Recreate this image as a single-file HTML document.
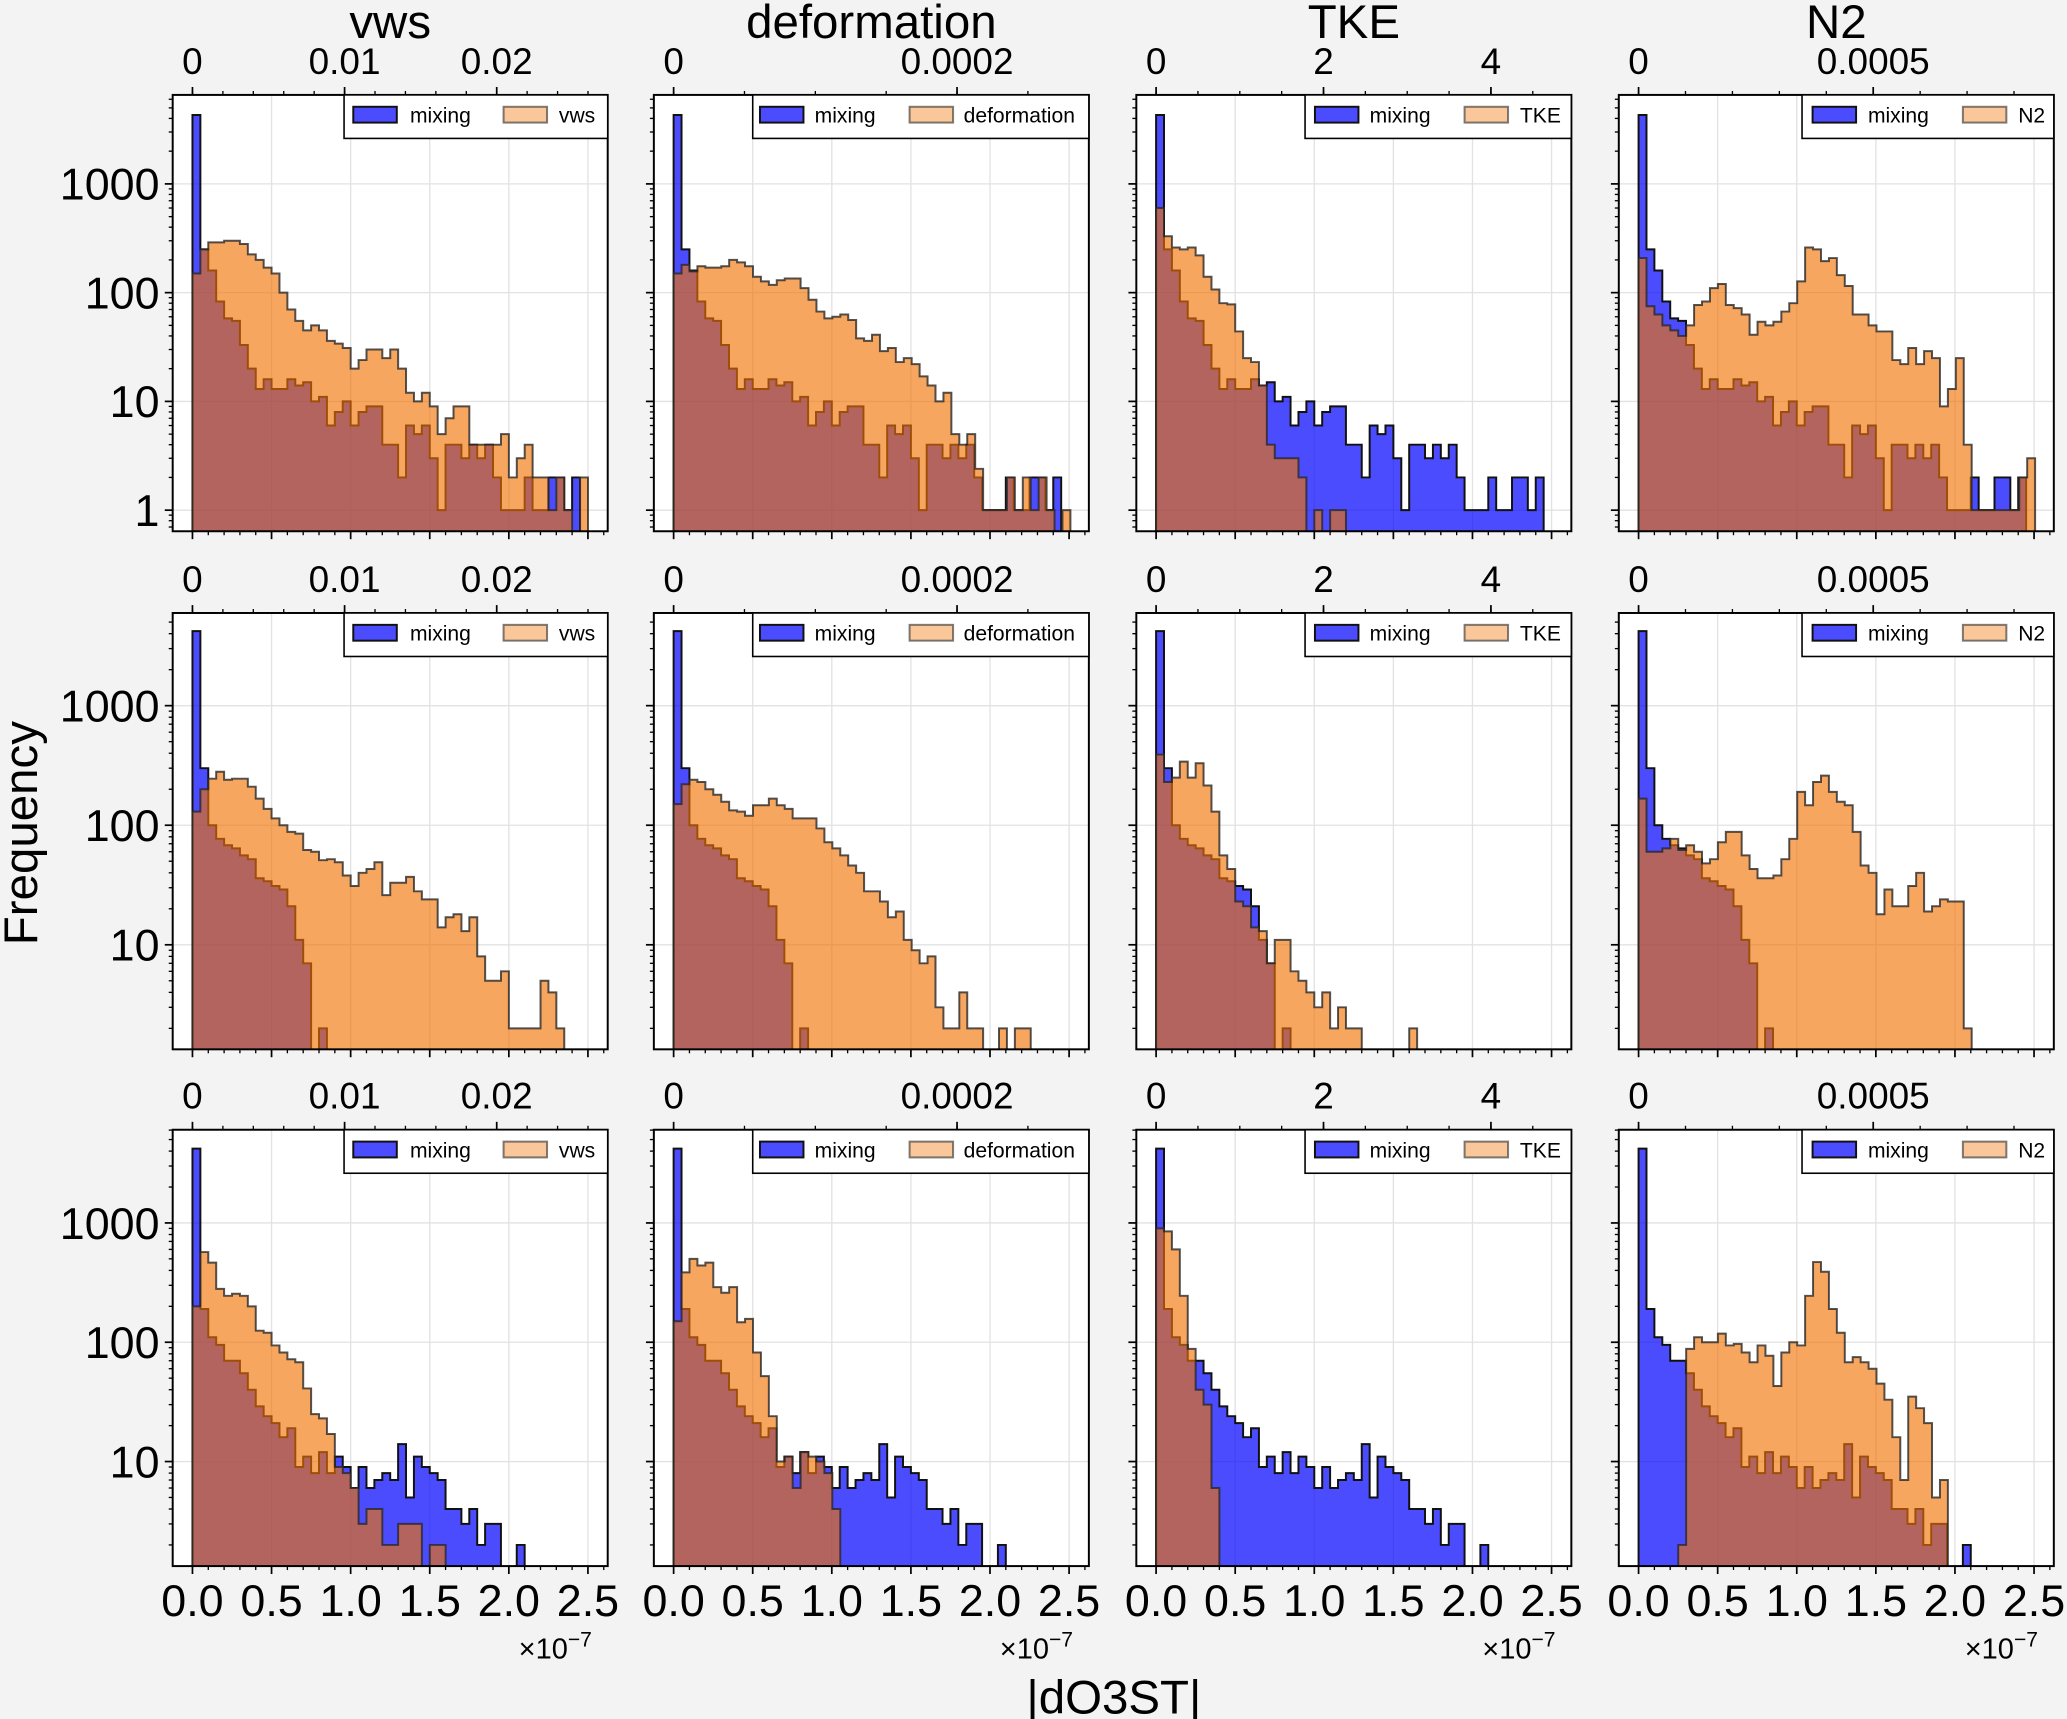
<!DOCTYPE html>
<html><head><meta charset="utf-8"><style>
html,body{margin:0;padding:0;background:#f3f3f3;}
svg{display:block;font-family:"Liberation Sans",Arial,sans-serif;}
</style></head><body>
<svg id="fig" width="2067" height="1719" viewBox="0 0 1568 1304" preserveAspectRatio="none" xmlns="http://www.w3.org/2000/svg">
<rect x="0" y="0" width="1568" height="1304" fill="#f3f3f3"/>
<text x="296" y="29" font-size="36" text-anchor="middle">vws</text>
<text x="661" y="29" font-size="36" text-anchor="middle">deformation</text>
<text x="1027" y="29" font-size="36" text-anchor="middle">TKE</text>
<text x="1393" y="29" font-size="36" text-anchor="middle">N2</text>
<text x="0" y="0" font-size="36" text-anchor="middle" transform="translate(28,632) rotate(-90)">Frequency</text>
<text x="845" y="1300" font-size="36" text-anchor="middle">|dO3ST|</text>
</svg>
<script>
const colNames = ["vws","deformation","TKE","N2"];
const mixR1 = [4300,250,160,83,58,55,33,20,13,16,13,13,16,14,15,10,11,6,8,10,6,8,9,9,4,4,2,6,5,6,3,1,4,4,3,4,3,4,2,1,1,1,2,1,1,2,2,1,2,0];
const mixR2 = [4200,300,100,77,68,64,56,52,36,34,31,29,21,11,7,0,2];
const mixR3 = [4200,190,110,95,70,70,55,40,29,24,21,16,19,9,11,8,12,8,11,9,6,9,6,7,8,7,14,5,11,9,8,7,4,4,3,4,2,3,3,0,0,2];
const vws1 = [150,250,290,290,300,300,280,225,200,170,150,100,70,55,45,50,45,36,34,31,20,24,30,30,25,30,20,12,10,12,9,5,7,9,9,4,4,4,4,5,2,3,4,2,2,1,2,1,0,2];
const def1 = [150,180,157,175,170,170,175,200,190,175,140,127,118,130,135,135,110,86,67,58,60,63,56,38,36,41,29,31,23,25,22,17,14,10,12,5,4,5,2.4,1,1,1,2,1,2,1,2,1,0,1];
const tke1 = [600,330,260,250,260,220,140,107,80,78,44,25,23,14,4,3,3,3,2,0,1,0,1,1];
const n2_1 = [208,75,63,50,45,40,50,77,83,110,120,77,72,63,41,54,50,54,67,80,127,260,250,195,208,145,115,63,63,50,44,44,24,22,31,22,29,25,9,13,25,4,1,1,1,1,1,1,2,3];
const vws2 = [130,200,245,280,240,245,245,210,167,137,114,100,88,85,62,60,51,52,49,38,31,40,43,49,26,33,33,37,28,24,24,14,17,18,13,17,8,5,5,6,2,2,2,2,5,4,2];
const def2 = [150,220,240,230,200,180,157,133,130,120,147,147,167,147,137,114,114,114,94,72,64,56,46,40,28,28,23,17,19,11,9,7,8,3,2,2,4,2,2,0,0,2,0,2,2];
const tke2 = [390,230,250,340,250,330,215,130,56,43,23,21,14,13,7,11,11,6,5,4,3,4,2,3,2,2,0,0,0,0,0,0,2];
const n2_2 = [167,60,60,64,77,62,68,60,48,52,72,88,88,56,43,36,36,38,52,77,190,147,230,260,190,157,147,88,46,40,18,29,21,21,31,40,19,21,24,23,23,2];
const vws3 = [200,570,465,280,245,255,245,200,125,120,94,82,72,68,41,25,23,17,9,8,6,3,4,4,2,2,3,3,3,0,2,2];
const def3 = [150,385,500,440,465,290,260,290,147,157,82,52,24,10,11,6,12,11,10,8,4];
const tke3 = [900,850,600,245,88,40,30,6];
const n2_3 = [0,0,0,0,0,2,88,110,100,100,118,94,97,82,68,94,77,43,82,100,94,245,470,390,190,120,68,75,68,60,45,33,16,7,35,28,21,5,7];
const mixRows = [mixR1, mixR2, mixR3];
const otherRows = [[vws1,def1,tke1,n2_1],[vws2,def2,tke2,n2_2],[vws3,def3,tke3,n2_3]];
const mixBin = 0.05e-7;
const topBins = [0.00052, 0.0000056, 0.0945, 0.0000169];
const topMajor = [[0,0.01,0.02],[0,0.0002],[0,2,4],[0,0.0005]];
const topMajorLabels = [["0","0.01","0.02"],["0","0.0002"],["0","2","4"],["0","0.0005"]];
const topMinorStep = [0.002, 0.00005, 0.5, 0.0001];
const bottomTicks = [0,0.5e-7,1e-7,1.5e-7,2e-7,2.5e-7];
const bottomLabels = ["0.0","0.5","1.0","1.5","2.0","2.5"];
const yLabelVals = [1000,100,10,1];

const NS = "http://www.w3.org/2000/svg";
const svg = document.getElementById("fig");
const colL = [131,496,862,1228], rowT = [72,465,857], PW = 330, PH = 331;
const topPx = [11540, 1075000, 63.5, 356000];
const rowAx = [{ref:387,per:82.5,rl:0},{ref:716.7,per:90.7,rl:1},{ref:1108.7,per:90.5,rl:1}];
const legPos = [[130,137,180,251,293],[75,80.5,122,194,235],[128,135.5,177,249,291],[139,147,189,261,303]];

function mk(tag, attrs, parent){const e=document.createElementNS(NS,tag);for(const k in attrs)e.setAttribute(k,attrs[k]);(parent||svg).appendChild(e);return e;}
function yOf(r,c){const a=rowAx[r];return a.ref-a.per*(Math.log10(c)-a.rl);}
function xBot(c,v){return colL[c]+15+v/2.5e-7*300;}
function xTop(c,v){return colL[c]+15+v*topPx[c];}
function histPath(vals,bw,xf,yf,base){
  let d="M"+xf(0).toFixed(2)+","+base;
  for(let k=0;k<vals.length;k++){
    const y=vals[k]>0?yf(vals[k]):base;
    d+="L"+xf(k*bw).toFixed(2)+","+y.toFixed(2)+"L"+xf((k+1)*bw).toFixed(2)+","+y.toFixed(2);
  }
  d+="L"+xf(vals.length*bw).toFixed(2)+","+base+"Z";
  return d;
}

const defs = mk("defs",{});
for(let r=0;r<3;r++){
  for(let c=0;c<4;c++){
    const L=colL[c],T=rowT[r],B=T+PH,R=L+PW;
    const g=mk("g",{});
    
    
    const cp=mk("clipPath",{id:"cp"+r+c},defs);
    mk("rect",{x:L,y:T,width:PW,height:PH},cp);
    mk("rect",{x:L,y:T,width:PW,height:PH,fill:"#fff"},g);
    // grid
    for(const v of bottomTicks){ if(v===0) continue; const x=xBot(c,v);
      mk("line",{x1:x,y1:T,x2:x,y2:B,stroke:"#e2e2e2","stroke-width":1},g);}
    for(const dv of [1,10,100,1000]){const y=yOf(r,dv); if(y>T&&y<B)
      mk("line",{x1:L,y1:y,x2:R,y2:y,stroke:"#e2e2e2","stroke-width":1},g);}
    const hg=mk("g",{"clip-path":"url(#cp"+r+c+")"},g);
    const base=B+5;
    const bp=mk("path",{d:histPath(mixRows[r],mixBin,v=>xBot(c,v),v=>yOf(r,v),base),fill:"rgba(0,0,255,0.7)",stroke:"#111","stroke-width":1.5,"stroke-linejoin":"miter"},hg);
    
    
    const op=mk("path",{d:histPath(otherRows[r][c],topBins[c],v=>xTop(c,v),v=>yOf(r,v),base),fill:"rgba(240,114,2,0.63)",stroke:"rgba(40,40,40,0.8)","stroke-width":1.5},hg);
    
    
    // spine
    mk("rect",{x:L,y:T,width:PW,height:PH,fill:"none",stroke:"#000","stroke-width":1.5},g);
    // y ticks
    for(let e=-1;e<=4;e++){for(let m=1;m<10;m++){const v=m*Math.pow(10,e);const y=yOf(r,v);
      if(y<T||y>B) continue; const len=m===1?6:3;
      mk("line",{x1:L-len,y1:y,x2:L,y2:y,stroke:"#000","stroke-width":m===1?1.3:1},g);}}
    if(c===0){for(const v of yLabelVals){const y=yOf(r,v); if(y<T||y>B) continue;
      const t=mk("text",{x:L-10,y:y+12,"font-size":34,"text-anchor":"end"},g);t.textContent=String(v);
      
      }}
    // bottom ticks
    for(let k=0;k<=27;k++){const v=k*0.1e-7;const x=xBot(c,v); if(x>R) break; const maj=k%5===0;
      mk("line",{x1:x,y1:B,x2:x,y2:B+(maj?6:3),stroke:"#000","stroke-width":maj?1.3:1},g);}
    if(r===2){bottomTicks.forEach((v,i)=>{const t=mk("text",{x:xBot(c,v),y:B+38,"font-size":34,"text-anchor":"middle"},g);t.textContent=bottomLabels[i];
      
      });
      const ex=mk("text",{x:L+318,y:B+70,"font-size":22,"text-anchor":"end"},g);
      
      
      ex.textContent="×10";const ts=mk("tspan",{"font-size":16,dy:-9},ex);ts.textContent="−7";}
    // top ticks
    for(let k=0;;k++){const v=k*topMinorStep[c];const x=xTop(c,v); if(x>R) break;
      mk("line",{x1:x,y1:T,x2:x,y2:T-3,stroke:"#000","stroke-width":1},g);}
    topMajor[c].forEach((v,i)=>{const x=xTop(c,v);
      mk("line",{x1:x,y1:T,x2:x,y2:T-6,stroke:"#000","stroke-width":1.3},g);
      const t=mk("text",{x:x,y:T-16,"font-size":28,"text-anchor":"middle"},g);t.textContent=topMajorLabels[c][i];
      
      });
    // legend
    const lp=legPos[c];
    const lg=mk("g",{},g);
    
    
    mk("rect",{x:L+lp[0],y:T,width:PW-lp[0],height:33,fill:"#fff",stroke:"#000","stroke-width":1.2},lg);
    mk("rect",{x:L+lp[1],y:T+9,width:33,height:12,fill:"rgba(0,0,255,0.7)",stroke:"#111","stroke-width":1.5},lg);
    const t1=mk("text",{x:L+lp[2],y:T+21,"font-size":16},lg);t1.textContent="mixing";
    
    
    mk("rect",{x:L+lp[3],y:T+9,width:33,height:12,fill:"rgba(240,114,2,0.4)",stroke:"rgba(40,40,40,0.6)","stroke-width":1.5},lg);
    const t2=mk("text",{x:L+lp[4],y:T+21,"font-size":16},lg);t2.textContent=colNames[c];
    
    
  }
}
</script>
</body></html>
